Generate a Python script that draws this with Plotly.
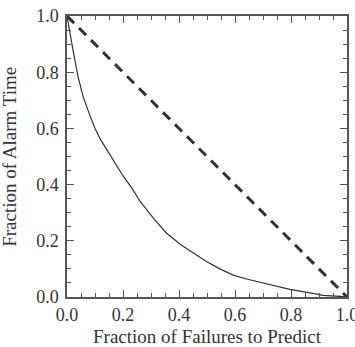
import plotly.graph_objects as go

# Molchan-type error diagram
fail_frac = [0, 0.005, 0.01, 0.021, 0.039, 0.057, 0.081, 0.10, 0.12, 0.143, 0.17,
             0.202, 0.23, 0.262, 0.309, 0.356, 0.404, 0.451, 0.498, 0.546, 0.594,
             0.641, 0.689, 0.725, 0.796, 0.868, 0.915, 0.975, 1.0]
alarm_frac = [1.0, 0.97, 0.941, 0.881, 0.786, 0.715, 0.648, 0.60, 0.56, 0.523, 0.475,
              0.428, 0.39, 0.339, 0.280, 0.227, 0.188, 0.156, 0.126, 0.100, 0.078,
              0.064, 0.052, 0.043, 0.027, 0.015, 0.006, 0.002, 0.0]
diag_x = [0.0, 1.0]
diag_y = [1.0, 0.0]
tick_vals = [0.0, 0.2, 0.4, 0.6, 0.8, 1.0]
tick_text = ["0.0", "0.2", "0.4", "0.6", "0.8", "1.0"]
x_title = "Fraction of Failures to Predict"
y_title = "Fraction of Alarm Time"

FONT = "Liberation Serif"
TXT = "#333333"
LINE = "#555555"

fig = go.Figure()
fig.add_trace(go.Scatter(x=diag_x, y=diag_y, mode="lines",
                         line=dict(color="#333333", width=3, dash="10px,7px"),
                         hoverinfo="skip"))
fig.add_trace(go.Scatter(x=fail_frac, y=alarm_frac, mode="lines",
                         line=dict(color="#333333", width=1.2), hoverinfo="skip"))

axis_common = dict(
    range=[0, 1], tickvals=tick_vals, ticktext=tick_text,
    ticks="inside", ticklen=7, tickwidth=1, tickcolor=LINE,
    showline=True, linecolor=LINE, linewidth=1.5, mirror="ticks",
    showgrid=False, zeroline=False, automargin=False,
    ticklabeloverflow="allow",
    minor=dict(dtick=0.05, ticks="inside", ticklen=4, tickwidth=1, tickcolor=LINE, showgrid=False),
    tickfont=dict(family=FONT, size=18, color=TXT),
    fixedrange=True,
)

fig.update_xaxes(**axis_common, ticklabelstandoff=1)
fig.update_yaxes(**axis_common, ticklabelstandoff=3)

fig.add_annotation(text=x_title, xref="paper", yref="paper", x=0.5, y=-0.142,
                   xanchor="center", yanchor="middle", showarrow=False,
                   font=dict(family=FONT, size=19, color=TXT))
fig.add_annotation(text=y_title, xref="paper", yref="paper", x=-0.206, y=0.5,
                   xanchor="center", yanchor="middle", showarrow=False, textangle=-90,
                   font=dict(family=FONT, size=19, color=TXT))

fig.update_layout(
    width=355, height=347,
    margin=dict(l=67, r=8, t=16, b=50),
    paper_bgcolor="white", plot_bgcolor="white",
    showlegend=False,
)

fig.write_html("out.html")
